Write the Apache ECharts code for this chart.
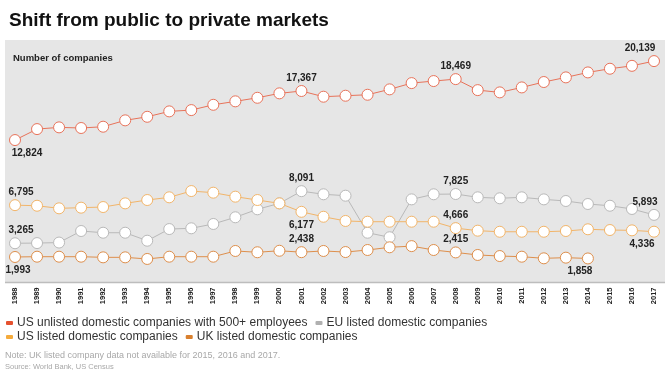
<!DOCTYPE html>
<html>
<head>
<meta charset="utf-8">
<script src="https://cdn.jsdelivr.net/npm/echarts@6/dist/echarts.min.js"></script>
<style>
  html, body { margin: 0; padding: 0; background: #fff; }
  #chart { width: 670px; height: 377px; }
</style>
</head>
<body>
<div id="chart"></div>
<script>
// years on the x axis
const years = [];
for (let y = 1988; y <= 2017; y++) years.push(String(y));

// values
const usUnlisted = [12824, 13840, 14000, 13940, 14060, 14650, 14980, 15480, 15600, 16090,
  16410, 16740, 17150, 17367, 16840, 16930, 17020, 17520, 18100, 18290,
  18469, 17450, 17240, 17700, 18200, 18630, 19090, 19430, 19700, 20139];
const euListed = [3265, 3280, 3330, 4400, 4240, 4240, 3500, 4580, 4650, 5050,
  5670, 6410, 6960, 8091, 7800, 7670, 4240, 3820, 7330, 7800,
  7825, 7520, 7430, 7520, 7330, 7180, 6900, 6740, 6440, 5893];
const usListed = [6795, 6740, 6500, 6560, 6620, 6960, 7270, 7520, 8100, 7950,
  7580, 7270, 6960, 6177, 5720, 5330, 5260, 5260, 5260, 5260,
  4666, 4430, 4330, 4330, 4330, 4400, 4560, 4490, 4460, 4336];
const ukListed = [1993, 2020, 2020, 2020, 1960, 1960, 1810, 2020, 2020, 2020,
  2550, 2430, 2570, 2438, 2550, 2450, 2640, 2890, 3000, 2640,
  2415, 2180, 2080, 2020, 1870, 1930, 1858, null, null, null];

// which points carry a value label: index -> [position, x offset]
const usUnlistedLabels = { 0: ['bottom', 12], 13: ['top', 0], 20: ['top', 0], 29: ['top', -14] };
const euListedLabels = { 0: ['top', 6], 13: ['top', 0], 20: ['top', 0], 29: ['top', -9] };
const usListedLabels = { 0: ['top', 6], 13: ['bottom', 0], 20: ['top', 0], 29: ['bottom', -12] };
const ukListedLabels = { 0: ['bottom', 3], 13: ['top', 0], 20: ['top', 0], 26: ['bottom', -8] };

const names = [
  'US unlisted domestic companies with 500+ employees',
  'EU listed domestic companies',
  'US listed domestic companies',
  'UK listed domestic companies'
];
const lineColors = ['#e8735a', '#b9b9b9', '#f2b56a', '#de8f4c'];
const legendColors = ['#e5512f', '#b0b0b0', '#f5ab3c', '#d9802e'];

const myChart = echarts.init(document.getElementById('chart'));

const withLabels = (values, labels) => values.map((v, i) => {
  if (!(i in labels)) return v;
  return {
    value: v,
    label: {
      show: true,
      position: labels[i][0],
      offset: [labels[i][1], 0],
      formatter: p => p.value.toLocaleString('en-US'),
      fontFamily: 'Liberation Sans',
      fontWeight: 'bold',
      fontSize: 10,
      color: '#222',
      distance: 2
    }
  };
});

const makeSeries = (idx, values, labels) => ({
  name: names[idx],
  type: 'line',
  data: withLabels(values, labels),
  symbol: 'circle',
  symbolSize: 11,
  showSymbol: true,
  connectNulls: false,
  itemStyle: { color: '#fff', borderColor: lineColors[idx], borderWidth: 1 },
  lineStyle: { color: lineColors[idx], width: 1 },
  emphasis: { disabled: true },
  animation: false,
  z: 5
});

const legendRow = (items, top) => ({
  data: items.map(i => ({ name: names[i], itemStyle: { color: legendColors[i], borderWidth: 0 } })),
  left: 6,
  top: top,
  orient: 'horizontal',
  icon: 'roundRect',
  itemWidth: 7,
  itemHeight: 4,
  itemGap: 8,
  padding: 0,
  selectedMode: false,
  textStyle: { fontFamily: 'Liberation Sans', fontSize: 12, color: '#333', padding: [0, 0, 0, -1] }
});

const option = {
  animation: false,
  title: {
    text: 'Shift from public to private markets',
    left: 4,
    top: 6,
    textStyle: { fontFamily: 'Liberation Sans', fontWeight: 'bold', fontSize: 19, color: '#111' }
  },
  graphic: [
    { type: 'rect', left: 5, top: 40, shape: { width: 660, height: 242 }, style: { fill: '#e6e6e6' }, z: -10 },
    { type: 'line', shape: { x1: 5, y1: 282.5, x2: 665, y2: 282.5 }, style: { stroke: '#bdbdbd', lineWidth: 1.5 }, z: -9 },
    {
      type: 'text', left: 13, top: 53,
      style: { text: 'Number of companies', font: 'bold 9.5px "Liberation Sans"', fill: '#222' }
    },
    {
      type: 'text', left: 5, top: 351,
      style: { text: 'Note: UK listed company data not available for 2015, 2016 and 2017.', font: '9px "Liberation Sans"', fill: '#a8a8a8' }
    },
    {
      type: 'text', left: 5, top: 363,
      style: { text: 'Source: World Bank, US Census', font: '7.5px "Liberation Sans"', fill: '#a8a8a8' }
    }
  ],
  legend: [legendRow([0, 1], 317), legendRow([2, 3], 331)],
  grid: { left: 15, right: 16, top: 41, bottom: 98.5 },
  xAxis: {
    type: 'category',
    data: years,
    boundaryGap: false,
    offset: 4,
    axisLine: { show: false },
    axisTick: { show: false },
    axisLabel: {
      rotate: 90,
      interval: 0,
      margin: 5,
      fontFamily: 'Liberation Sans',
      fontWeight: 'bold',
      fontSize: 7.5,
      color: '#222'
    }
  },
  yAxis: {
    type: 'value',
    min: 0,
    max: 22000,
    show: false,
    splitLine: { show: false }
  },
  series: [
    makeSeries(0, usUnlisted, usUnlistedLabels),
    makeSeries(1, euListed, euListedLabels),
    makeSeries(2, usListed, usListedLabels),
    makeSeries(3, ukListed, ukListedLabels)
  ]
};

myChart.setOption(option);
window.addEventListener('resize', () => myChart.resize());
</script>
</body>
</html>
